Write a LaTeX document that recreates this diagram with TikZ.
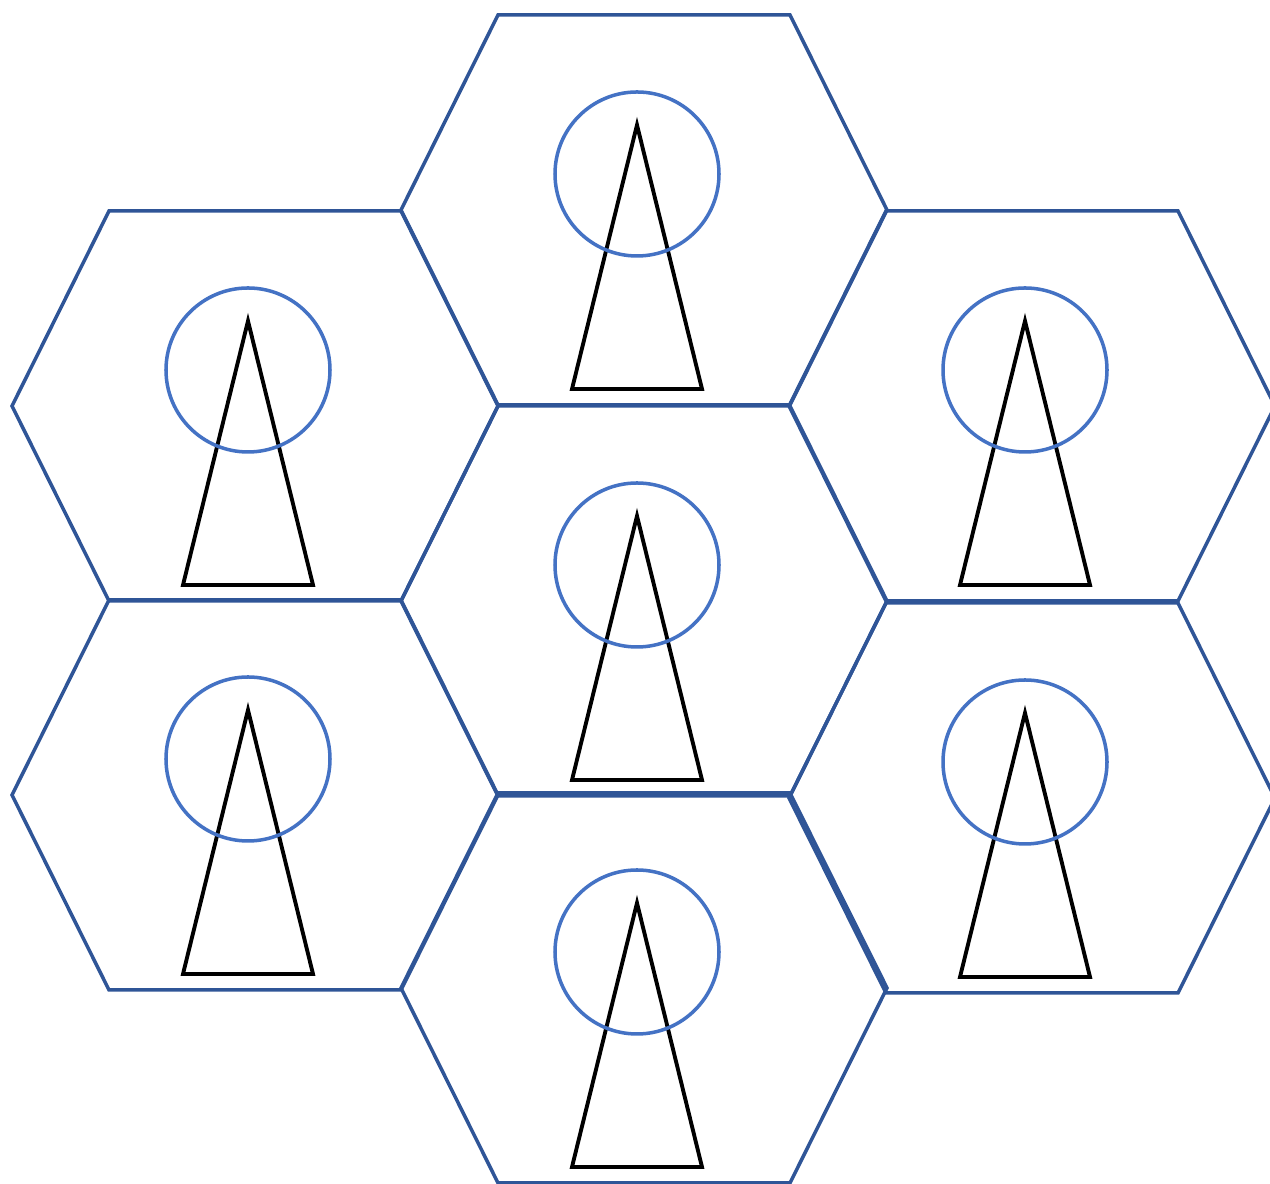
\documentclass[tikz,border=0pt]{standalone}
\usepackage{tikz}
\usetikzlibrary{calc}
\definecolor{hexblue}{RGB}{47,85,151}
\definecolor{ringblue}{RGB}{68,114,196}
\tikzset{
  hexcell/.style   = {line width=1.0pt, draw=hexblue, line join=miter},
  mast/.style      = {line width=1.1pt, draw=black, line join=miter},
  ring/.style      = {line width=1.0pt, draw=ringblue},
}
% one cell: hexagon, antenna mast and coverage ring around (#1,#2)
\newcommand{\cellsite}[2]{%
  \draw[hexcell] (#1-1.46,#2+1.95) -- (#1+1.46,#2+1.95) -- (#1+2.43,#2)
        -- (#1+1.46,#2-1.95) -- (#1-1.46,#2-1.95) -- (#1-2.43,#2) -- cycle;
  \draw[mast] (#1-0.07,#2+0.85) -- (#1+0.58,#2-1.79) -- (#1-0.72,#2-1.79) -- cycle;
  \draw[ring] (#1-0.07,#2+0.36) circle (0.82);
}

\begin{document}
\begin{tikzpicture}
  \useasboundingbox (0,0) rectangle (12.7,11.84);
  % ---------------- middle column ---------------------------------------
  \cellsite{6.44}{9.74}
  \cellsite{6.44}{5.83}
  \cellsite{6.44}{1.96}
  % ---------------- left column -----------------------------------------
  \cellsite{2.55}{7.78}
  \cellsite{2.55}{3.89}
  % ---------------- right column ----------------------------------------
  \cellsite{10.32}{7.78}
  \cellsite{10.32}{3.86}
\end{tikzpicture}
\end{document}
